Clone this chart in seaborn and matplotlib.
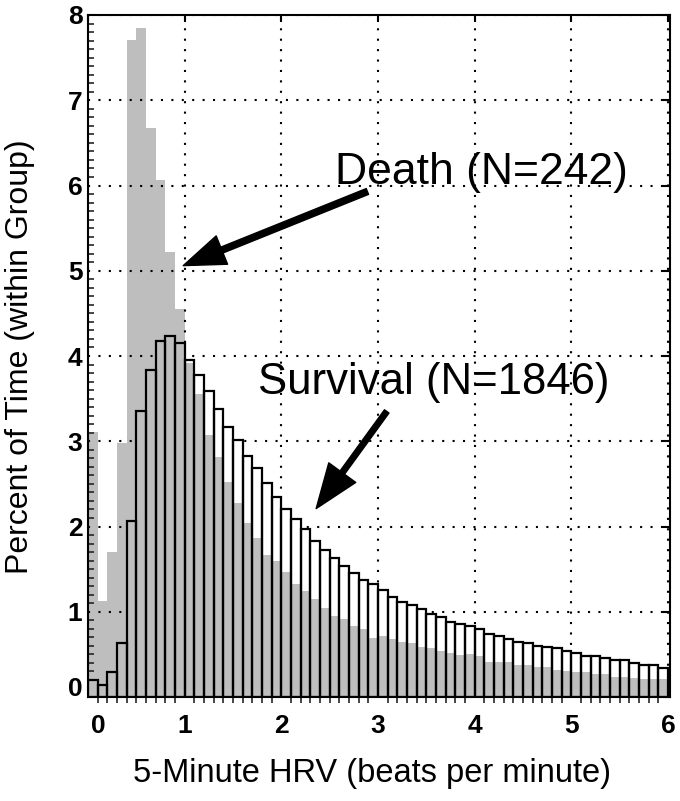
import numpy as np
import pandas as pd
import matplotlib
matplotlib.use("Agg")
import matplotlib.pyplot as plt
import matplotlib.transforms as mtransforms
from matplotlib.ticker import MultipleLocator
import seaborn as sns

#%% Daten (Prozent der Zeit je 0.1-bpm-Klasse)

bin_edges = np.round(np.arange(0, 6.05, 0.1), 2)
bin_mid = bin_edges[:-1] + 0.05

death_pct = [3.11, 1.13, 1.70, 2.98, 7.71, 7.85, 6.67, 6.07, 5.22, 4.55,
             3.92, 3.55, 3.07, 2.81, 2.52, 2.27, 2.04, 1.87, 1.67, 1.59,
             1.47, 1.32, 1.24, 1.15, 1.04, 0.95, 0.92, 0.83, 0.80, 0.69,
             0.71, 0.68, 0.65, 0.63, 0.59, 0.57, 0.54, 0.52, 0.49, 0.50,
             0.48, 0.41, 0.41, 0.41, 0.38, 0.38, 0.35, 0.35, 0.32, 0.30,
             0.29, 0.29, 0.27, 0.27, 0.24, 0.24, 0.22, 0.21, 0.21, 0.21]

survival_pct = [0.20, 0.14, 0.29, 0.63, 2.06, 3.35, 3.84, 4.18, 4.23, 4.15,
                3.95, 3.78, 3.59, 3.38, 3.17, 3.01, 2.83, 2.69, 2.51, 2.35,
                2.21, 2.09, 1.97, 1.83, 1.72, 1.63, 1.54, 1.46, 1.37, 1.32,
                1.26, 1.17, 1.11, 1.08, 1.03, 0.97, 0.94, 0.88, 0.86, 0.83,
                0.80, 0.74, 0.71, 0.68, 0.65, 0.63, 0.60, 0.59, 0.57, 0.54,
                0.52, 0.48, 0.48, 0.46, 0.43, 0.43, 0.40, 0.38, 0.38, 0.34]

x_ticks = [0, 1, 2, 3, 4, 5, 6]
y_ticks = [0, 1, 2, 3, 4, 5, 6, 7, 8]

death_label = "Death (N=242)"
survival_label = "Survival (N=1846)"

df = pd.DataFrame({"hrv": bin_mid, "death": death_pct, "survival": survival_pct})
df["overlap"] = np.minimum(df["death"], df["survival"])

#%% Stil

sns.set_style("white")
plt.rcParams['font.family'] = ['Liberation Sans', 'DejaVu Sans']
plt.rcParams['text.color'] = 'black'
plt.rcParams['axes.labelcolor'] = 'black'

fig = plt.figure(figsize=(6.8, 8.01), dpi=100)
ax = fig.add_axes([88/680, 1 - 697/801, 582/680, 682/801])

gray = "#bebebe"
hist_kw = dict(data=df, x="hrv", bins=list(bin_edges), ax=ax, stat="count", alpha=1)

# graue Balken ganz unten, damit das Gitter darueber sichtbar bleibt
sns.histplot(weights="death", color=gray, edgecolor="none", linewidth=0,
             zorder=0.3, **hist_kw)
# weisses Inneres der Survival-Balken verdeckt das Gitter
sns.histplot(weights="survival", color="white", edgecolor="none", linewidth=0,
             zorder=1, **hist_kw)
# grauer Anteil innerhalb der Survival-Balken
sns.histplot(weights="overlap", color=gray, edgecolor="none", linewidth=0,
             zorder=1.2, **hist_kw)
# Umrisse
sns.histplot(weights="survival", fill=False, color="black", linewidth=1.6,
             zorder=2, **hist_kw)

ax.set_xlim(0, 6.02)
ax.set_ylim(0, 8)

ax.set_axisbelow(True)
ax.grid(True, which="major", color="black", linestyle=(0, (1, 4)), linewidth=1.5)

for s in ax.spines.values():
    s.set_color("black")
    s.set_linewidth(1.5)

ax.set_xticks(x_ticks)
ax.set_xticklabels([str(t) for t in x_ticks], fontweight="bold")
ax.set_yticks(y_ticks)
ax.set_yticklabels([str(t) for t in y_ticks], fontweight="bold")
ax.xaxis.set_minor_locator(MultipleLocator(0.1))
ax.yaxis.set_minor_locator(MultipleLocator(0.1))

ax.tick_params(which="major", direction="in", length=5, width=1.5, colors="black",
               top=True, right=True, labelsize=19)
ax.tick_params(axis="x", which="major", pad=12)
ax.tick_params(axis="y", which="major", pad=4)
ax.tick_params(axis="x", which="minor", direction="out", length=4, width=1.2,
               bottom=True, top=False)
ax.tick_params(axis="y", which="minor", direction="in", length=4, width=1.2,
               left=True, right=False)

# die "0"-Beschriftungen sitzen im Original etwas versetzt
dx = mtransforms.ScaledTranslation(10/100, 0, fig.dpi_scale_trans)
dy = mtransforms.ScaledTranslation(0, 10/100, fig.dpi_scale_trans)
lx = ax.get_xticklabels()[0]
lx.set_transform(lx.get_transform() + dx)
ly = ax.get_yticklabels()[0]
ly.set_transform(ly.get_transform() + dy)

ax.set_xlabel("5-Minute HRV (beats per minute)", fontsize=23.5)
ax.xaxis.set_label_coords(0.488, -0.089)
ax.set_ylabel("")
fig.text(20/680, 1 - 357/801, "Percent of Time (within Group)", fontsize=23,
         rotation=90, ha="center", va="center")

#%% Beschriftungen mit Pfeilen

ax.text(2.55, 6.02, death_label, fontsize=32, ha="left", va="baseline")
ax.text(1.76, 3.55, survival_label, fontsize=31.5, ha="left", va="baseline")

ax.annotate("", xy=(0.985, 5.06), xytext=(2.89, 5.93),
            arrowprops=dict(facecolor="black", edgecolor="black", width=4.5,
                            headwidth=22, headlength=30, shrink=0))
ax.annotate("", xy=(2.36, 2.21), xytext=(3.09, 3.35),
            arrowprops=dict(facecolor="black", edgecolor="black", width=4,
                            headwidth=24, headlength=32, shrink=0))

fig.savefig("out.png", dpi=100)
